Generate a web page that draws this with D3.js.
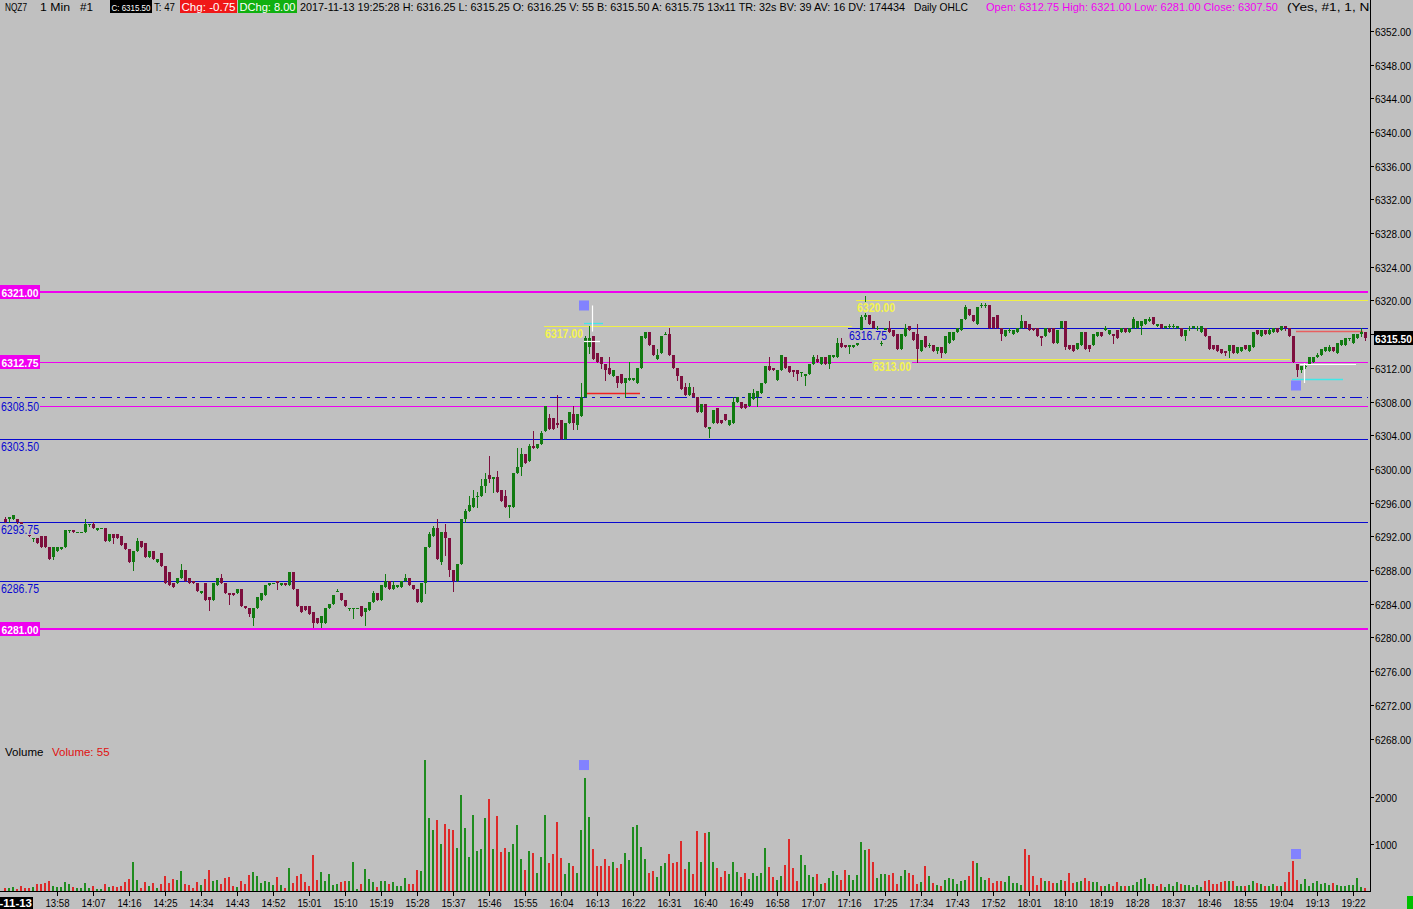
<!DOCTYPE html>
<html><head><meta charset="utf-8">
<script src="https://cdn.jsdelivr.net/npm/d3@7"></script>
<style>
html,body{margin:0;padding:0;background:#c0c0c0;overflow:hidden;}
svg{display:block;}
text{font-family:"Liberation Sans","DejaVu Sans",Arial,sans-serif;}
</style></head><body>
<svg id="chart" width="1413" height="909"></svg>
<script>
// ---------------- DATA ----------------
const firstBarTime = "13:45";
const opens = [
6294,6294,6294,6294,6293.75,6293.25,6292.75,6291.75,6291.75,6292,
6292,6290.75,6289.5,6290.25,6290.5,6290.75,6292.75,6292.75,6292.5,6292.5,
6292.5,6293.5,6293.5,6292.75,6293,6293,6291.5,6292.25,6292.25,6292,
6291.25,6290.5,6289,6290.25,6291.5,6291.25,6289.5,6290.25,6289,6290,
6288.5,6287.75,6286.5,6286.5,6287,6288,6287,6286.75,6286.5,6285.25,
6286.5,6284.75,6284.5,6286.25,6287,6286.5,6285.25,6285.25,6285.25,6285.75,
6283.75,6283.5,6282.25,6283.5,6284.5,6285,6286.25,6286.5,6286.75,6286.25,
6286.5,6286.25,6287.75,6285.75,6283.75,6283.75,6283.75,6283,6282.25,6281.75,
6281.75,6283.5,6284,6285.5,6285.25,6284.5,6283.5,6283.5,6283.5,6283.75,
6283,6283.25,6284.25,6285.25,6284.5,6286,6286.75,6285.75,6286,6286,
6286.75,6287,6286.25,6285.75,6284.25,6286.5,6290.75,6292,6293,6289,
6292.5,6291.75,6288,6286.75,6288.75,6294,6295,6295.5,6296.75,6296.75,
6298,6299.25,6298.75,6299,6297.5,6296.75,6295.5,6295.5,6299.5,6300.25,
6301.75,6301,6302.75,6302.5,6303,6304.5,6306,6306,6305.5,6305.75,
6303.5,6305.5,6306.5,6305.25,6306.25,6308.5,6314.5,6315.75,6313.75,6313.25,
6312.5,6312,6311,6311,6311.25,6310.25,6310.5,6310.5,6310.25,6312,
6315.5,6316.25,6314.75,6313,6313.75,6316,6316,6313.5,6312,6311,
6309.75,6308.75,6309,6308.5,6306.75,6307.75,6304.75,6305.5,6307.25,6305.75,
6306.5,6305.25,6305.5,6308,6308,6307.75,6307.5,6308.25,6308.5,6309,
6310.25,6312.25,6312,6310.5,6311.75,6313.25,6312.25,6311.75,6311.75,6311.5,
6311,6311.25,6312.5,6313,6312.5,6313.25,6312.5,6313.25,6313.25,6315,
6314.75,6314.5,6314.5,6314.75,6316.5,6318,6318.25,6317.5,6316.75,6315,
6315.25,6316.75,6316.5,6316,6314.25,6315.75,6317,6316.25,6316,6314,
6315.75,6314.75,6314.75,6314,6314.5,6313.75,6315,6315.25,6316.25,6316.5,
6317.75,6319,6318.25,6317.25,6319.5,6319.5,6319.5,6318,6318.25,6316.75,
6315.75,6316.5,6316,6316.25,6316.75,6317.5,6317.25,6316.75,6316.75,6315.75,
6315.75,6316.75,6316.75,6315,6316.75,6317.5,6314.75,6314.75,6314.25,6314.75,
6316.25,6314.75,6314.75,6315.75,6316.25,6316.5,6316,6316,6316.5,6316.25,
6316.75,6316.25,6316.75,6316.75,6317,6317.25,6317.5,6318,6317,6317.25,
6316.75,6317,6317,6316.75,6316.75,6315.75,6316.75,6316.75,6316.75,6316.25,
6316.75,6315.75,6314.75,6314.75,6314.25,6314,6314,6314.75,6313.75,6314,
6314.75,6314,6314.5,6316.5,6315.75,6316.5,6316,6316.25,6316.75,6316.5,
6317,6316.75,6315.75,6312.5,6311.75,6312.25,6312.5,6312.75,6313.25,6313.5,
6314,6314,6314.5,6313.75,6314.75,6314.75,6315.5,6315,6315.5,6316,
6316.25];
const highs = [
6294.25,6294.25,6294.5,6294,6293.75,6293.5,6293,6291.75,6291.75,6292,
6292,6290.75,6290.75,6290.75,6290.75,6292.75,6292.75,6292.75,6292.5,6292.5,
6294,6293.5,6293.75,6293,6293,6293,6292.25,6292.25,6292.25,6292,
6291.25,6290.5,6290.25,6291.75,6291.5,6291.25,6290.25,6290.25,6289.25,6290,
6288.5,6287.75,6286.5,6287,6288.75,6288,6287,6286.75,6286.5,6285.5,
6286.5,6284.75,6286.5,6287,6287.5,6286.5,6285.25,6285.25,6285.75,6285.75,
6283.75,6283.5,6283.5,6284.75,6285.25,6286.25,6286.5,6286.5,6286.75,6286.5,
6286.5,6287.75,6287.75,6285.75,6283.75,6283.75,6283.75,6283,6282.25,6282.5,
6283.5,6284,6285,6285.75,6285.25,6284.5,6283.5,6283.5,6283.5,6283.75,
6283.5,6284.25,6285.5,6285.25,6286.25,6287.5,6286.75,6286.75,6286.25,6286.75,
6287.5,6287,6286.25,6285.75,6286.5,6290.75,6292.5,6293.25,6294,6292.5,
6293.5,6291.75,6288,6288.75,6294,6295.25,6296.75,6297.5,6297.25,6298.75,
6299.5,6301.5,6299,6299.75,6297.5,6297.5,6295.75,6299.5,6302.5,6302.5,
6301.75,6303,6304.5,6303,6304.5,6307.5,6306.5,6306,6308.75,6305.75,
6305.5,6306.75,6307.5,6306.5,6310.25,6315.75,6317,6315.75,6313.75,6313.25,
6312.5,6313.25,6311.75,6311,6311.25,6310.75,6312.75,6310.75,6312,6315.75,
6316.25,6316.25,6314.75,6314.25,6315.75,6316.25,6316.75,6313.5,6312,6311,
6310.25,6310.25,6309.75,6308.5,6307.75,6307.75,6305,6307,6307.25,6305.75,
6306.5,6305.75,6308.5,6308.5,6308,6307.75,6309,6309.5,6309.25,6310.25,
6312.25,6313.25,6312,6311.75,6313.5,6313.25,6312.25,6311.75,6311.75,6311.5,
6311.25,6312.5,6313.5,6313.5,6313.25,6313.25,6313.5,6313.5,6315.5,6315.5,
6314.75,6314.75,6314.75,6315,6318.25,6320.5,6318.25,6317.5,6317,6315.25,
6316.75,6317.5,6316.5,6316,6316,6317.25,6317,6316.25,6317.25,6315.25,
6315.75,6315,6314.75,6314.5,6314.5,6315.75,6316.25,6316.25,6316.75,6317.75,
6319.5,6319,6318.25,6319.25,6319.75,6319.75,6319.5,6318,6318.25,6316.75,
6316.5,6316.75,6316.5,6316.75,6318.25,6317.5,6317.25,6316.75,6316.75,6315.75,
6316.75,6316.75,6316.75,6316.5,6317.5,6317.5,6314.75,6314.75,6315,6316.25,
6316.25,6314.75,6316,6316.25,6316.25,6317,6316.5,6316,6316.5,6316.75,
6316.75,6316.75,6318,6317.5,6317.5,6317.75,6318,6318,6317.25,6317.25,
6317,6317.25,6317.25,6317,6316.75,6316.5,6317,6317,6317,6317,
6316.75,6315.75,6314.75,6314.75,6314.25,6314,6314.75,6314.75,6314.5,6314.5,
6314.75,6314.75,6316.25,6316.5,6316.5,6316.5,6316.75,6316.75,6316.75,6317,
6317,6316.75,6315.75,6312.5,6312.25,6312.5,6313.25,6313.25,6313.75,6314.25,
6314.5,6314.75,6314.5,6315,6315.25,6315.5,6315.5,6316,6316,6316.75,
6316.25];
const lows = [
6293.75,6293.75,6294,6293.5,6293,6292.5,6292,6291.5,6291.25,6290.75,
6290.75,6289.25,6289.25,6290.25,6290.5,6290.75,6292.5,6292.5,6292.5,6292.5,
6292.5,6293.25,6293,6292.75,6293,6291.5,6291.5,6291.25,6291.75,6291,
6290.5,6289,6288,6290.25,6290.75,6289.5,6289.5,6289.25,6289,6288.5,
6286.5,6286.25,6286,6286.5,6287,6286.75,6286.5,6286.5,6285.5,6285.25,
6284.5,6283.25,6284.5,6286.25,6286.5,6285.25,6284,6285,6285.25,6283.75,
6283.5,6282.5,6281.5,6283.5,6284.5,6285,6286.25,6286.5,6285.75,6286.25,
6286.25,6286.25,6285.75,6283.75,6283,6283.25,6282.75,6281.25,6281.75,6281.25,
6281.75,6283.5,6284,6285.5,6284.5,6283.75,6283.25,6282.25,6283.5,6282.5,
6281.5,6283.25,6284.25,6284.5,6284.5,6286,6285.75,6285.75,6286,6286,
6286.75,6286.25,6285.75,6284.25,6284.25,6285.25,6290.75,6292,6289.25,6288.75,
6289.75,6287.25,6285.5,6286.75,6288.75,6293.75,6295,6295.5,6295.5,6296.75,
6297.25,6298.5,6297.25,6297.25,6296.25,6295.5,6294.25,6295.5,6299.5,6299.25,
6300.75,6301,6302.5,6302.5,6303,6304.5,6304.75,6304.75,6305,6303.5,
6303.5,6305.5,6304.75,6304.75,6306.25,6308.5,6313.75,6313,6312.75,6312,
6310.5,6311.25,6311,6309.75,6310.25,6308.5,6310.5,6310.5,6310.25,6312,
6315.5,6314.75,6313.5,6313,6313.75,6316,6313.5,6312,6310.5,6309.5,
6308.75,6308.75,6308.5,6306.75,6306.75,6305,6303.75,6305.5,6305.5,6305.5,
6305.75,6305.25,6305.5,6308,6307.25,6307.25,6307.5,6308.25,6307.5,6309,
6310.25,6311.75,6311.75,6310.5,6311.75,6312,6311.5,6311,6310.5,6311,
6310,6311.25,6312.5,6312.75,6312.5,6312.5,6312,6313.25,6313.25,6314.5,
6314.5,6313.75,6314.5,6314.75,6316.5,6317.75,6317.25,6316.75,6316.5,6314.75,
6315.25,6316.25,6315.75,6314.25,6314.25,6315.75,6316.5,6315.25,6312.75,6314,
6314.5,6314.5,6314,6313.75,6313.25,6313.75,6315,6315.25,6316.25,6316.5,
6317.75,6318.25,6317.5,6317.25,6319.25,6319.25,6316.75,6316.75,6316.75,6315.25,
6315.75,6316.25,6316,6316.25,6316.75,6316.75,6316.5,6316.5,6315.75,6314.75,
6315.75,6316.25,6315,6315,6316.75,6314.25,6314.25,6314,6314.25,6314.75,
6314.25,6314,6314.75,6315.75,6315.75,6316.5,6316,6315,6315.5,6316.25,
6316.25,6316.25,6316.75,6316.75,6316,6317.25,6317.5,6317.25,6317,6316.75,
6316.75,6316.75,6316.75,6316.75,6315.75,6315.25,6316.5,6316.75,6316.5,6316.25,
6315.75,6314.25,6314.25,6314,6313.75,6313.5,6313.25,6313.75,6313.75,6314,
6314.25,6314,6314.5,6316,6315.75,6316,6316,6316.25,6316.25,6316.5,
6316.5,6315.75,6312.75,6311,6311.5,6312,6312.5,6312.75,6313.25,6313.5,
6314,6314,6314,6313.75,6314.75,6314.75,6315.25,6315,6315.5,6315.75,
6315.25];
const closes = [
6293.75,6294.25,6294.5,6293.75,6293.25,6292.75,6292,6291.75,6291.25,6290.75,
6290.75,6289.25,6290.75,6290.75,6290.75,6292.75,6292.75,6292.5,6292.5,6292.5,
6293.5,6293.5,6293,6293,6293,6291.5,6292.25,6291.75,6291.75,6291,
6290.5,6289,6290.25,6291.5,6290.75,6289.5,6290.25,6289.25,6289.25,6288.5,
6286.5,6286.25,6286,6287,6288,6286.75,6286.5,6286.5,6285.5,6285.5,
6284.5,6284.5,6286.5,6287,6286.5,6285.25,6285,6285,6285.75,6283.75,
6283.5,6282.75,6283.5,6284.75,6285.25,6286.25,6286.5,6286.5,6286.5,6286.5,
6286.25,6287.75,6285.75,6283.75,6283,6283.25,6282.75,6281.75,6281.75,6282.5,
6283.5,6284,6285,6285.5,6284.5,6283.75,6283.5,6283.5,6283.5,6282.5,
6283.5,6284.25,6285.25,6284.5,6286.25,6286.75,6285.75,6286.25,6286.25,6286.75,
6287,6286.25,6285.75,6284.25,6286.5,6290.75,6292.25,6293,6289.25,6292.5,
6291.75,6288,6286.75,6288.75,6294,6295,6295.75,6296.5,6296.75,6298,
6298.75,6298.75,6299,6297.25,6296.25,6295.5,6295.75,6299.5,6300.25,6301.75,
6300.75,6302.75,6302.5,6303,6304.25,6307.5,6304.75,6304.75,6305.25,6303.5,
6305.5,6306.75,6305.5,6306.5,6308.5,6315.5,6315.5,6313,6312.75,6312.5,
6311.75,6311.25,6311.75,6310.25,6310.25,6310.75,6310.75,6310.75,6312,6315.75,
6316.25,6314.75,6313.5,6313.5,6315.75,6316,6313.5,6312,6311,6309.5,
6308.75,6309.75,6308.5,6306.75,6307.75,6305,6305,6307,6305.5,6305.5,
6305.75,6305.75,6308,6308.5,6307.25,6307.25,6309,6309,6309.25,6310.25,
6312.25,6311.75,6311.75,6311.75,6313.5,6312,6311.5,6311.5,6311.25,6311.5,
6311.25,6312.5,6313.25,6312.75,6313.25,6312.5,6313.5,6313.5,6315,6314.5,
6314.5,6314.75,6314.75,6315,6318,6318.25,6317.25,6316.75,6316.75,6315,
6316.75,6316.25,6315.75,6314.25,6316,6316.75,6316.5,6315.25,6314.25,6315.25,
6314.5,6314.75,6314,6314.5,6313.75,6315.75,6316.25,6316.25,6316.75,6317.75,
6319.25,6318.25,6317.5,6319.25,6319.5,6319.5,6316.75,6316.75,6316.75,6316,
6316.5,6316.5,6316.5,6316.75,6317.5,6316.75,6316.5,6316.5,6315.75,6315.5,
6316.75,6316.25,6315,6316.5,6317.5,6314.5,6314.25,6314,6315,6316.25,
6314.25,6314.25,6316,6316.25,6315.75,6316.75,6316.5,6315.75,6315.5,6316.75,
6316.25,6316.75,6317.75,6317.5,6317.5,6317.75,6317.75,6317.25,6317.25,6316.75,
6317,6317,6317,6317,6315.75,6316.5,6316.75,6317,6316.75,6317,
6315.75,6314.25,6314.25,6314,6313.75,6313.75,6314.75,6313.75,6314.5,6314.5,
6314.25,6314.75,6316.25,6316,6316.5,6316,6316.5,6316.75,6316.25,6317,
6316.75,6315.75,6312.75,6311.75,6312.25,6312.25,6313.25,6313.25,6313.5,6314.25,
6314.5,6314.5,6314,6315,6315.25,6315.5,6315.5,6316,6316,6316.25,
6315.5];
const volumes = [
71,71,92,43,113,71,71,92,142,142,
177,220,113,92,92,198,149,92,57,71,
177,71,113,50,50,149,92,113,78,106,
191,262,624,234,71,191,113,163,71,149,
319,163,262,234,432,149,135,64,198,135,
262,447,220,234,149,284,305,106,92,220,
149,340,404,326,170,213,191,135,305,121,
71,489,170,319,362,191,113,766,234,404,
213,362,135,149,191,220,213,617,43,149,
468,255,191,92,213,213,149,191,113,113,
277,149,149,447,425,2787,1553,1297,1510,1000,
1425,1319,1297,915,2042,1340,730,1617,858,893,
1553,1957,900,1595,830,915,830,1000,1404,688,
447,851,808,383,723,1617,596,787,1468,702,
362,596,532,383,1297,2404,1574,893,532,532,
681,532,617,489,574,808,659,1361,1404,936,
681,383,425,298,532,596,787,596,617,1064,
468,617,362,1276,617,1234,1255,617,489,298,
425,362,617,404,298,383,255,383,319,383,
915,510,298,234,319,553,1106,489,213,766,
553,340,298,362,149,170,277,425,340,234,
447,340,234,340,1042,872,893,617,277,362,
362,340,383,149,319,447,383,340,149,191,
532,319,170,128,106,234,277,255,149,213,
234,319,638,596,298,234,277,170,213,213,
191,319,170,170,128,893,766,319,128,277,
213,213,170,170,234,213,383,170,191,213,
277,213,191,191,106,106,149,106,191,106,
106,106,128,191,255,277,149,149,106,149,
85,149,106,191,149,128,128,85,128,85,
213,234,149,149,191,213,213,213,106,106,
106,128,213,170,149,106,106,149,106,106,
191,404,638,234,149,255,106,170,213,149,
170,128,170,128,106,106,128,128,277,85,
55];
const timeLabels = ["13:58","14:07","14:16","14:25","14:34","14:43","14:52","15:01","15:10","15:19",
"15:28","15:37","15:46","15:55","16:04","16:13","16:22","16:31","16:40","16:49","16:58","17:07",
"17:16","17:25","17:34","17:43","17:52","18:01","18:10","18:19","18:28","18:37","18:46","18:55",
"19:04","19:13","19:22"];
const dateLabel = "2017-11-13";
const priceTicks = [6352,6348,6344,6340,6336,6332,6328,6324,6320,6316,6312,6308,6304,6300,6296,6292,6288,6284,6280,6276,6272,6268];
const volumeTicks = [2000,1000];
const lastPrice = 6315.50;
const lastVolume = 55;
// horizontal reference levels
const levelPrices = [6321.00,6312.75,6281.00,6307.50,6308.50,6303.50,6293.75,6286.75,6316.75,6317.00,6320.00,6313.00];
const levelKinds  = ["dayHL","dayOpen","dayHL","dayClose","pivotDash","pivot","pivot","pivot","pivotLate","swing","swing","swing"];
const levelFromBar= [null,null,null,null,null,null,null,null,210.75,134.75,212.75,216.75];
const levelToBar  = [null,null,null,null,null,null,null,null,null,211.75,null,321.25];
// trade annotation marks
const markBars = [144.75,322.75];
const markPrices = [6319.4,6309.9];
const markVolumes = [2680,787];
const crossBars = [146.75,324.75];
const crossTop = [6319.4,6312.55];
const crossBottom = [6316.3,6310.2];
const cyanFrom=[144.75,321.75], cyanTo=[149.5,334.5], cyanPrice=[6317.35,6310.7];
const whiteFrom=[144.75,323.75], whiteTo=[148.75,337.75], whitePrice=[6315.2,6312.4];
const stopFrom=[145,322.75], stopTo=[158.75,339.5], stopPrice=[6309.0,6316.4];
const headerParts = [
 ["NQZ7","plain"],["1 Min","plain"],["#1","plain"],["C: 6315.50","box-black"],["T: 47","plain"],
 ["Chg: -0.75","box-red"],["DChg: 8.00","box-green"],
 ["2017-11-13 19:25:28 H: 6316.25 L: 6315.25 O: 6316.25 V: 55 B: 6315.50 A: 6315.75 13x11 TR: 32s BV: 39 AV: 16 DV: 174434","plain"],
 ["Daily OHLC","plain"],["Open: 6312.75  High: 6321.00  Low: 6281.00  Close: 6307.50","magenta"],["(Yes, #1, 1, No","plain"]];

// ---------------- LAYOUT ----------------
const W=1413,H=909, AXIS_X=1370, BASE_Y=891;
const svg=d3.select("#chart");
svg.append("rect").attr("width",W).attr("height",H).attr("fill","#c0c0c0");
const N=closes.length;
const x=d3.scaleLinear().domain([0,N-1]).range([5,5+4*(N-1)]);
const y=d3.scaleLinear().domain([6281,6321]).range([629,292]);
const yv=d3.scaleLinear().domain([0,2000]).range([BASE_Y,797]);
const toMin=s=>{const [h,m]=s.split(":").map(Number);return h*60+m;};
const t0=toMin(firstBarTime);

const GREEN="#117a11", MAROON="#7d0f3e", VGREEN="#1f8c1f", VRED="#dd2a2a";
const MAG="#f000f0", BLUE="#0808d0", YEL="#f0f046";

const defs=svg.append("defs");
defs.append("clipPath").attr("id","plotclip").append("rect")
  .attr("x",0).attr("y",14).attr("width",AXIS_X).attr("height",BASE_Y-14);
defs.append("clipPath").attr("id","hclip").append("rect").attr("x",0).attr("y",0).attr("width",AXIS_X).attr("height",14);
const plot=svg.append("g").attr("clip-path","url(#plotclip)");

// levels (lines)
const kindStyle={
  dayHL:{c:MAG,w:2},dayOpen:{c:MAG,w:1},dayClose:{c:MAG,w:1,x0:39},
  pivotDash:{c:BLUE,w:1,dash:"12,5,3,5"},pivot:{c:BLUE,w:1},pivotLate:{c:BLUE,w:1},swing:{c:YEL,w:1}
};
const levelG=plot.append("g").attr("shape-rendering","crispEdges");
levelPrices.forEach((p,k)=>{
  const st=kindStyle[levelKinds[k]];
  const xa=levelFromBar[k]!=null?x(levelFromBar[k]):(st.x0||0);
  const xb=levelToBar[k]!=null?x(levelToBar[k]):1368;
  const yy=Math.round(y(p))+(st.w===1?0.5:0);
  levelG.append("line").attr("x1",xa).attr("x2",xb).attr("y1",yy).attr("y2",yy)
    .attr("stroke",st.c).attr("stroke-width",st.w).attr("stroke-dasharray",st.dash||null);
  if(levelKinds[k]==="dayClose"){
    levelG.append("line").attr("x1",39.5).attr("x2",39.5).attr("y1",yy-4).attr("y2",yy+5).attr("stroke",MAG);
  }
});

// stop / target short lines
const annG=plot.append("g");
stopPrice.forEach((p,k)=>{const yy=Math.round(y(p))+0.5;
  annG.append("line").attr("x1",x(stopFrom[k])).attr("x2",x(stopTo[k])).attr("y1",yy).attr("y2",yy)
    .attr("stroke",k===0?"#f02020":"#e86060").attr("stroke-width",1.5);});

// candles
const cg=plot.append("g").attr("shape-rendering","crispEdges");
const idx=d3.range(N);
cg.selectAll("rect.wick").data(idx).join("rect").attr("class","wick")
  .attr("x",i=>Math.round(x(i))).attr("width",1)
  .attr("y",i=>Math.round(y(highs[i])))
  .attr("height",i=>Math.max(1,Math.round(y(lows[i]))-Math.round(y(highs[i]))+1))
  .attr("fill",i=>closes[i]>=opens[i]?GREEN:MAROON);
cg.selectAll("rect.body").data(idx).join("rect").attr("class","body")
  .attr("x",i=>Math.round(x(i))-1).attr("width",3)
  .attr("y",i=>Math.round(y(Math.max(opens[i],closes[i]))))
  .attr("height",i=>Math.max(1,Math.round(y(Math.min(opens[i],closes[i])))-Math.round(y(Math.max(opens[i],closes[i])))))
  .attr("fill",i=>closes[i]>=opens[i]?GREEN:MAROON);

// cyan / white / crosses
cyanPrice.forEach((p,k)=>{const yy=Math.round(y(p))+0.5;
  annG.append("line").attr("x1",x(cyanFrom[k])).attr("x2",x(cyanTo[k])).attr("y1",yy).attr("y2",yy).attr("stroke","#40e8e8").attr("stroke-width",1.3);});
const annTop=plot.append("g");
whitePrice.forEach((p,k)=>{const yy=Math.round(y(p))+0.5;
  annTop.append("line").attr("x1",x(whiteFrom[k])).attr("x2",x(whiteTo[k])).attr("y1",yy).attr("y2",yy).attr("stroke","#ffffff").attr("stroke-width",1.2);});
crossBars.forEach((b,k)=>{
  annTop.append("line").attr("x1",Math.round(x(b))+0.5).attr("x2",Math.round(x(b))+0.5)
   .attr("y1",y(crossTop[k])).attr("y2",y(crossBottom[k])).attr("stroke","#ffffff").attr("stroke-width",1.2);});
markBars.forEach((b,k)=>{
  annTop.append("rect").attr("x",x(b)-5).attr("y",y(markPrices[k])-5).attr("width",10).attr("height",10).attr("fill","#8282ff");
  annTop.append("rect").attr("x",x(b)-5).attr("y",yv(markVolumes[k])-5).attr("width",10).attr("height",10).attr("fill","#8282ff");
});

// volume bars
plot.append("g").attr("shape-rendering","crispEdges").selectAll("rect").data(idx).join("rect")
  .attr("x",i=>Math.round(x(i))-1).attr("width",2)
  .attr("y",i=>Math.round(yv(volumes[i])))
  .attr("height",i=>BASE_Y-Math.round(yv(volumes[i])))
  .attr("fill",i=>closes[i]>=opens[i]?VGREEN:VRED);

// level labels (on top)
const labG=svg.append("g");
levelPrices.forEach((p,k)=>{
  const kind=levelKinds[k]; const yy=y(p); const txt=p.toFixed(2);
  if(kind==="dayHL"||kind==="dayOpen"){
    labG.append("rect").attr("x",0).attr("y",Math.round(yy)-7).attr("width",40).attr("height",14).attr("fill",MAG);
    labG.append("text").attr("x",1.5).attr("y",Math.round(yy)+4.5).attr("fill","#ffffff").attr("font-weight","bold")
      .attr("font-size",11).attr("textLength",37).attr("lengthAdjust","spacingAndGlyphs").text(txt);
  } else if(kind==="pivot"||kind==="pivotDash"||kind==="pivotLate"||kind==="swing"){
    const xa=levelFromBar[k]!=null?x(levelFromBar[k]):0;
    const top=Math.round(yy)+2 + (kind==="pivotDash"?2:0);
    labG.append("rect").attr("x",xa).attr("y",top).attr("width",40).attr("height",11).attr("fill","#c0c0c0");
    labG.append("text").attr("x",xa+1).attr("y",top+9.5).attr("fill",kind==="swing"?"#f4f450":BLUE)
      .attr("font-weight",kind==="swing"?"bold":"normal")
      .attr("font-size",12).attr("textLength",38).attr("lengthAdjust","spacingAndGlyphs").text(txt);
  }
});

// axes lines
svg.append("line").attr("x1",AXIS_X+0.5).attr("x2",AXIS_X+0.5).attr("y1",0).attr("y2",BASE_Y+1).attr("stroke","#000");
svg.append("line").attr("x1",0).attr("x2",AXIS_X+1).attr("y1",BASE_Y+0.5).attr("y2",BASE_Y+0.5).attr("stroke","#000");

// right price axis
const axG=svg.append("g");
priceTicks.forEach(p=>{const yy=Math.round(y(p))+0.5;
  axG.append("line").attr("x1",AXIS_X).attr("x2",AXIS_X+4).attr("y1",yy).attr("y2",yy).attr("stroke","#000");
  axG.append("text").attr("x",AXIS_X+5).attr("y",yy+4).attr("font-size",10).attr("fill","#000")
    .attr("textLength",36).attr("lengthAdjust","spacingAndGlyphs").text(p.toFixed(2));});
volumeTicks.forEach(v=>{const yy=Math.round(yv(v))+0.5;
  axG.append("line").attr("x1",AXIS_X).attr("x2",AXIS_X+4).attr("y1",yy).attr("y2",yy).attr("stroke","#000");
  axG.append("text").attr("x",AXIS_X+5).attr("y",yy+4).attr("font-size",10.5).attr("fill","#000")
    .attr("textLength",22).attr("lengthAdjust","spacingAndGlyphs").text(String(v));});
// last price box
const lpY=Math.round(y(lastPrice));
axG.append("rect").attr("x",AXIS_X+4).attr("y",lpY-7).attr("width",45).attr("height",14).attr("fill","#000");
axG.append("text").attr("x",AXIS_X+5).attr("y",lpY+4.5).attr("font-size",10).attr("font-weight","bold").attr("fill","#fff")
  .attr("textLength",37).attr("lengthAdjust","spacingAndGlyphs").text(lastPrice.toFixed(2));

// bottom time axis
const tG=svg.append("g");
timeLabels.forEach(s=>{const i=toMin(s)-t0; const xx=Math.round(x(i))+0.5;
  tG.append("line").attr("x1",xx).attr("x2",xx).attr("y1",BASE_Y).attr("y2",BASE_Y+5).attr("stroke","#000");
  tG.append("text").attr("x",xx).attr("y",907).attr("text-anchor","middle").attr("font-size",11)
    .attr("textLength",24).attr("lengthAdjust","spacingAndGlyphs").text(s);});
tG.append("rect").attr("x",-30).attr("y",897).attr("width",63).attr("height",12).attr("fill","#000");
tG.append("text").attr("x",32).attr("y",907).attr("text-anchor","end").attr("font-size",11).attr("font-weight","bold")
  .attr("fill","#fff").attr("textLength",58).attr("lengthAdjust","spacingAndGlyphs").text(dateLabel);
tG.append("rect").attr("x",1407).attr("y",896).attr("width",6).attr("height",13).attr("fill","#00c000");

// volume title
svg.append("text").attr("x",5).attr("y",756).attr("font-size",11.5).attr("fill","#000").text("Volume");
svg.append("text").attr("x",52).attr("y",756).attr("font-size",11.5).attr("fill","#e01010").text("Volume: "+lastVolume);

// header
const hg=svg.append("g").attr("clip-path","url(#hclip)");
const hpos=[[5,22],[40,30],[80,13],[110,39],[154,21],[180,54],[238,56],[300,605],[914,54],[986,292],[1287,90]];
const hsize=[11,11,11,9,10,10,10,11,11,11,11];
headerParts.forEach((part,k)=>{
  const [txt,sty]=part; const [hx,hw]=hpos[k];
  let fill="#000";
  if(sty.startsWith("box")){
    const bg=sty==="box-black"?"#000":sty==="box-red"?"#f01818":"#10b010";
    hg.append("rect").attr("x",hx).attr("y",0).attr("width",hw+3).attr("height",13).attr("fill",bg);
    fill="#fff";
  }
  if(sty==="magenta") fill="#f000f0";
  hg.append("text").attr("x",hx+(sty.startsWith("box")?1.5:0)).attr("y",10.5).attr("font-size",hsize[k]).attr("fill",fill)
    .attr("textLength",hw).attr("lengthAdjust","spacingAndGlyphs").text(txt);
});
</script></body></html>
